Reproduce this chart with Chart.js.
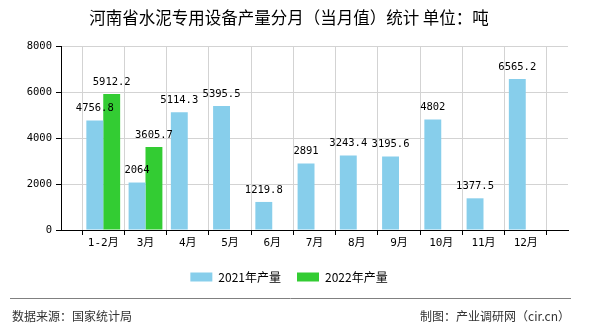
<!DOCTYPE html>
<html>
<head>
<meta charset="utf-8">
<script src="https://cdn.jsdelivr.net/npm/chart.js@4/dist/chart.umd.min.js"></script>
<style>
  html, body { margin: 0; padding: 0; background: #fff; }
  #wrap { width: 590px; height: 330px; }
</style>
</head>
<body>
<div id="wrap"><canvas id="chart" width="590" height="330"></canvas></div>
<script>
const months = ["1-2月", "3月", "4月", "5月", "6月", "7月", "8月", "9月", "10月", "11月", "12月"];
const output2021 = [4756.8, 2064, 5114.3, 5395.5, 1219.8, 2891, 3243.4, 3195.6, 4802, 1377.5, 6565.2];
const output2022 = [5912.2, 3605.7, null, null, null, null, null, null, null, null, null];
const yTicks = [0, 2000, 4000, 6000, 8000];

const monoFont = "'DejaVu Sans Mono', 'Noto Sans CJK SC', monospace";
const cjkFont = "'Noto Sans CJK SC', 'Noto Sans', sans-serif";

// the axis has an empty slot at each end so the months sit on the grid lines
const labels = [""].concat(months, [""]);
const pad = arr => [null].concat(arr, [null]);

// value text over each bar
const valueLabels = {
    id: "valueLabels",
    afterDatasetsDraw(chart) {
        const ctx = chart.ctx;
        ctx.save();
        ctx.font = "10.5px " + monoFont;
        ctx.fillStyle = "#000";
        ctx.textAlign = "center";
        ctx.textBaseline = "middle";
        chart.data.datasets.forEach((ds, i) => {
            chart.getDatasetMeta(i).data.forEach((bar, j) => {
                const v = ds.data[j];
                if (v === null || v === undefined) return;
                ctx.fillText(String(v), bar.x, bar.y - 12);
            });
        });
        ctx.restore();
    }
};

// source line and credits under the legend
const footer = {
    id: "footer",
    afterDraw(chart) {
        const ctx = chart.ctx;
        ctx.save();
        ctx.strokeStyle = "#808080";
        ctx.lineWidth = 1;
        ctx.beginPath();
        ctx.moveTo(10, 298.5);
        ctx.lineTo(571, 298.5);
        ctx.stroke();
        ctx.font = "12px " + cjkFont;
        ctx.fillStyle = "#333";
        ctx.textBaseline = "middle";
        ctx.textAlign = "left";
        ctx.fillText("数据来源：国家统计局", 12, 316);
        ctx.textAlign = "right";
        ctx.fillText("制图：产业调研网（cir.cn）", 570, 316);
        ctx.restore();
    }
};

new Chart(document.getElementById("chart"), {
    type: "bar",
    data: {
        labels: labels,
        datasets: [{
            label: "2021年产量",
            data: pad(output2021),
            backgroundColor: "#87ceeb"
        }, {
            label: "2022年产量",
            data: pad(output2022),
            backgroundColor: "#33cc33"
        }]
    },
    options: {
        responsive: false,
        animation: false,
        layout: { padding: { left: 10, right: 22, top: 0, bottom: 37 } },
        datasets: { bar: { categoryPercentage: 0.8, barPercentage: 1 } },
        scales: {
            x: {
                offset: false,
                grid: { color: "#d3d3d3", tickColor: "#000", tickLength: 5 },
                border: { color: "#000" },
                ticks: {
                    autoSkip: false,
                    maxRotation: 0,
                    padding: 2,
                    color: "#000",
                    font: { family: monoFont, size: 11 }
                },
                afterFit(scale) { scale.height = 25; }
            },
            y: {
                min: yTicks[0],
                max: yTicks[yTicks.length - 1],
                afterBuildTicks(scale) { scale.ticks = yTicks.map(v => ({ value: v })); },
                grid: { color: "#d3d3d3", tickColor: "#000", tickLength: 5 },
                border: { color: "#000" },
                ticks: {
                    padding: 4,
                    color: "#000",
                    font: { family: monoFont, size: 10.5 },
                    callback: v => String(v)
                },
                afterFit(scale) { scale.width = 51; }
            }
        },
        plugins: {
            title: {
                display: true,
                text: "河南省水泥专用设备产量分月（当月值）统计 单位：吨",
                color: "#000",
                font: { family: cjkFont, size: 16.5, weight: "normal" },
                padding: { top: 8, bottom: 18.2 }
            },
            legend: {
                position: "bottom",
                labels: {
                    boxWidth: 22,
                    boxHeight: 9,
                    padding: 16,
                    color: "#000",
                    font: { family: cjkFont, size: 12 }
                }
            },
            tooltip: { enabled: false }
        }
    },
    plugins: [valueLabels, footer]
});
</script>
</body>
</html>
